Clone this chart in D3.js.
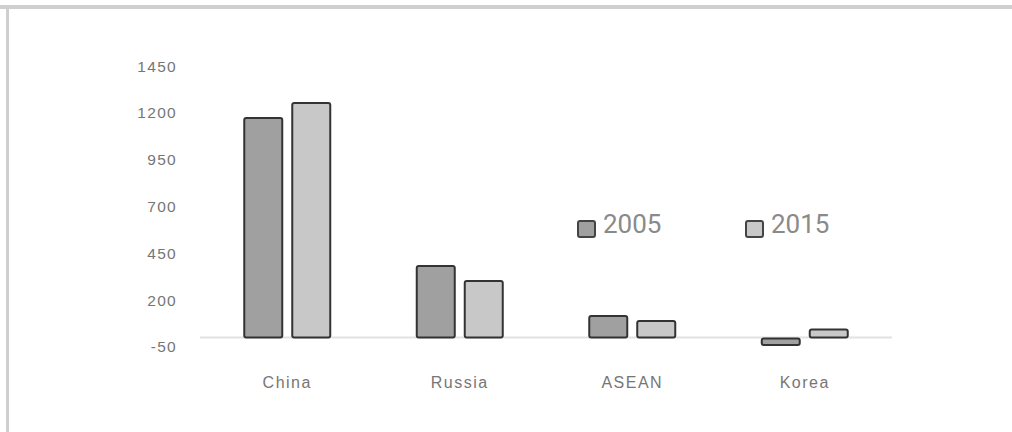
<!DOCTYPE html>
<html>
<head>
<meta charset="utf-8">
<script src="https://cdn.jsdelivr.net/npm/d3@7"></script>
<style>
  html, body { margin: 0; padding: 0; background: #fff; }
  svg { display: block; }
</style>
</head>
<body>
<svg id="chart" width="1012" height="432"></svg>
<script>
const categories = ["China", "Russia", "ASEAN", "Korea"];
const seriesNames = ["2005", "2015"];
const values2005 = [1178, 387, 120, -41];
const values2015 = [1258, 307, 93, 48];
const yTicks = [-50, 200, 450, 700, 950, 1200, 1450];
const fills = ["#a0a0a0", "#c8c8c8"];

const svg = d3.select("#chart");

// frame
svg.append("rect").attr("x", 0).attr("y", 5).attr("width", 1012).attr("height", 4).attr("fill", "#cfcfcf");
svg.append("rect").attr("x", 6).attr("y", 5).attr("width", 3).attr("height", 427).attr("fill", "#cfcfcf");

const y = d3.scaleLinear().domain([-50, 1450]).range([346.8, 66]);
const x0 = d3.scaleBand().domain(categories).range([201, 891]).padding(0);
const x1 = d3.scaleBand().domain(seriesNames).range([0, 88]).paddingInner(1/6).paddingOuter(0);

// y tick labels
svg.append("g").selectAll("text").data(yTicks).join("text")
  .attr("x", 177).attr("y", d => y(d)).attr("dy", "0.36em")
  .attr("text-anchor", "end")
  .attr("font-family", "Liberation Sans, Arial, sans-serif")
  .attr("font-size", 15.5).attr("letter-spacing", "1.3px")
  .attr("fill", "#767676")
  .text(d => d);

// zero line
svg.append("line").attr("x1", 200).attr("x2", 892).attr("y1", y(0)).attr("y2", y(0))
  .attr("stroke", "#e2e2e2").attr("stroke-width", 2);

const data = categories.map((c, i) => ({ cat: c, vals: [values2005[i], values2015[i]] }));

const groups = svg.append("g").selectAll("g").data(data).join("g")
  .attr("transform", d => `translate(${x0(d.cat) + x0.bandwidth() / 2 - 44},0)`);

groups.selectAll("rect").data(d => d.vals.map((v, j) => ({ s: seriesNames[j], v, j }))).join("rect")
  .attr("x", d => x1(d.s) + 1)
  .attr("width", x1.bandwidth() - 2)
  .attr("y", d => Math.min(y(d.v), y(0)) + 1)
  .attr("height", d => Math.max(Math.abs(y(d.v) - y(0)) - 1, 1))
  .attr("rx", 2)
  .attr("fill", d => fills[d.j])
  .attr("stroke", "#333")
  .attr("stroke-width", 2);

// category labels
svg.append("g").selectAll("text").data(categories).join("text")
  .attr("x", d => x0(d) + x0.bandwidth() / 2).attr("y", 388)
  .attr("text-anchor", "middle")
  .attr("font-family", "Liberation Sans, Arial, sans-serif")
  .attr("font-size", 16).attr("letter-spacing", "1.5px")
  .attr("fill", "#767676")
  .text(d => d);

// legend
const legendX = [578, 746];
const legend = svg.append("g").selectAll("g").data(seriesNames).join("g")
  .attr("transform", (d, i) => `translate(${legendX[i]},0)`);
legend.append("rect").attr("x", 0).attr("y", 221).attr("width", 17).attr("height", 16)
  .attr("rx", 2).attr("fill", (d, i) => fills[i]).attr("stroke", "#444").attr("stroke-width", 2);
legend.append("text").attr("x", 25).attr("y", 233)
  .attr("font-family", "Roboto, Liberation Sans, sans-serif")
  .attr("font-size", 26).attr("fill", "#8a8a8a")
  .text(d => d);
</script>
</body>
</html>
